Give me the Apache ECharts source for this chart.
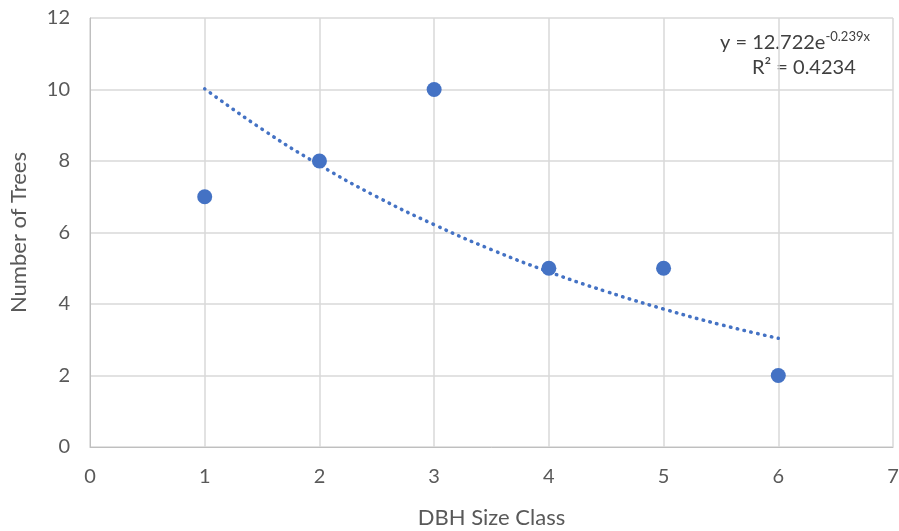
<!DOCTYPE html>
<html><head><meta charset="utf-8">
<script src="https://cdn.jsdelivr.net/npm/echarts@6/dist/echarts.min.js"></script>
<style>html,body{margin:0;padding:0;background:#fff}#c{width:899px;height:531px}</style>
</head><body><div id="c"></div>
<script>
const sizeClass = [1, 2, 3, 4, 5, 6];
const treeCount = [7, 8, 10, 5, 5, 2];
const trendX = [1, 1.5, 2, 2.5, 3, 3.5, 4, 4.5, 5, 5.5, 6];
const trendY = [10.02, 8.89, 7.89, 7.00, 6.22, 5.52, 4.90, 4.35, 3.86, 3.42, 3.04];
const xTicks = [0, 1, 2, 3, 4, 5, 6, 7];
const yTicks = [0, 2, 4, 6, 8, 10, 12];

const font = 'Lato';
const chart = echarts.init(document.getElementById('c'));
chart.setOption({
  animation: false,
  grid: {left: 90, right: 6, top: 18, bottom: 84, containLabel: false, outerBoundsMode: 'none'},
  xAxis: {
    type: 'value', min: xTicks[0], max: xTicks[xTicks.length-1], interval: 1,
    name: 'DBH Size Class', nameLocation: 'middle', nameGap: 60,
    nameTextStyle: {fontFamily: font, fontSize: 22, color: '#595959'},
    axisLine: {show: true, lineStyle: {color: '#bfbfbf', width: 1}},
    axisTick: {show: false},
    axisLabel: {fontFamily: font, fontSize: 20, color: '#595959', margin: 20},
    splitLine: {show: true, lineStyle: {color: '#d9d9d9', width: 1.5}}
  },
  yAxis: {
    type: 'value', min: yTicks[0], max: yTicks[yTicks.length-1], interval: 2,
    name: 'Number of Trees', nameLocation: 'middle', nameGap: 60, nameRotate: 90,
    nameTextStyle: {fontFamily: font, fontSize: 22, color: '#595959'},
    axisLine: {show: true, lineStyle: {color: '#bfbfbf', width: 1}},
    axisTick: {show: false},
    axisLabel: {fontFamily: font, fontSize: 20, color: '#595959', margin: 20},
    splitLine: {show: true, lineStyle: {color: '#d9d9d9', width: 1.5}}
  },
  series: [
    {
      type: 'line', data: trendX.map((x, i) => [x, trendY[i]]), smooth: true,
      showSymbol: false, symbol: 'none',
      lineStyle: {color: '#4472C4', width: 3.5, type: [0.5, 6.5], cap: 'round'},
      z: 2
    },
    {
      type: 'scatter', data: sizeClass.map((x, i) => [x, treeCount[i]]),
      symbolSize: 15, itemStyle: {color: '#4472C4', opacity: 1}, z: 3
    }
  ],
  graphic: [
    {type: 'text', left: 720, top: 30, style: {
      rich: {
        b: {fontFamily: font, fontSize: 20, fill: '#404040'},
        s: {fontFamily: font, fontSize: 13, fill: '#404040', verticalAlign: 'top', padding: [0,0,12,0]}
      },
      text: '{b|y = 12.722e}{s|-0.239x}'
    }},
    {type: 'text', left: 752, top: 58, style: {
      text: 'R² = 0.4234', fontFamily: font, fontSize: 20, fill: '#404040'
    }}
  ]
});
</script></body></html>
